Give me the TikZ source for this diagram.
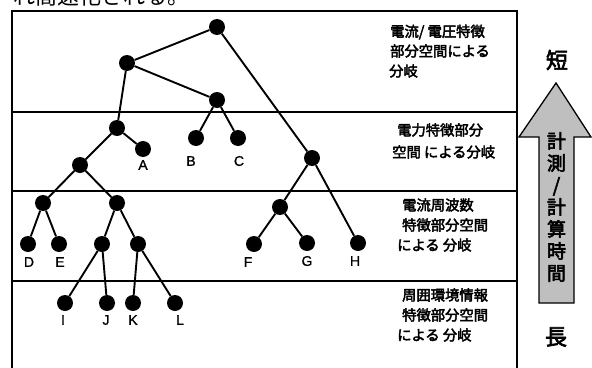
\documentclass[tikz,border=0pt]{standalone}
\usepackage{fontspec}
\setmainfont{Liberation Sans}
\newfontfamily\labfont{Liberation Sans}[FakeBold=1.2]
\newfontfamily\cjk{Noto Sans CJK JP}
\newfontfamily\cjkb{Noto Sans CJK JP}[FakeBold=3]
\begin{document}
\begin{tikzpicture}[x=1pt,y=-1pt,
  inode/.style={circle,fill=black,inner sep=0pt,minimum size=16pt},
  edge/.style={line width=1.9pt},
  lab/.style={font=\labfont\fontsize{14}{14}\selectfont,inner sep=0pt},
  band/.style={font=\cjkb\fontsize{14.3}{14.3}\selectfont,anchor=west,inner sep=0pt},
  frame/.style={line width=1.5pt}]
\useasboundingbox (0,0) rectangle (592,367);
% cut-off line of text at top
\node[font=\cjk\fontsize{22}{22}\selectfont,anchor=base west,inner sep=0pt] (top) at (13,4.5) {れ高速化される。};
% frame and bands
\coordinate (tl) at (12,11);
\coordinate (br) at (517,370);
\draw[frame] (12,370) -- (tl) -- (517,11) -- (br);
\coordinate (l1) at (12,112); \coordinate (r1) at (517,112);
\coordinate (l2) at (12,191); \coordinate (r2) at (517,191);
\coordinate (l3) at (12,281); \coordinate (r3) at (517,281);
\draw[frame] (l1) -- (r1);
\draw[frame] (l2) -- (r2);
\draw[frame] (l3) -- (r3);
% tree nodes
\node[inode] (root) at (217,27) {};
\node[inode] (n1) at (127,63) {};
\node[inode] (n2) at (217,100) {};
\node[inode] (B) at (196,138) {};
\node[inode] (C) at (238,138) {};
\node[inode] (n3) at (117,128) {};
\node[inode] (A) at (143,149) {};
\node[inode] (n4) at (80,165) {};
\node[inode] (n5) at (43,203) {};
\node[inode] (n6) at (117,203) {};
\node[inode] (D) at (28,244) {};
\node[inode] (E) at (59,244) {};
\node[inode] (n7) at (102,244) {};
\node[inode] (n8) at (138,244) {};
\node[inode] (I) at (65,303) {};
\node[inode] (J) at (107,303) {};
\node[inode] (K) at (133,303) {};
\node[inode] (L) at (175,303) {};
\node[inode] (n10) at (312,158) {};
\node[inode] (n9) at (280,207) {};
\node[inode] (F) at (254,244) {};
\node[inode] (G) at (307,243) {};
\node[inode] (H) at (358,243) {};
% edges
\draw[edge] (root) -- (n1);
\draw[edge] (root) -- (n10);
\draw[edge] (n1) -- (n2);
\draw[edge] (n1) -- (n3);
\draw[edge] (n2) -- (B);
\draw[edge] (n2) -- (C);
\draw[edge] (n3) -- (A);
\draw[edge] (n3) -- (n4);
\draw[edge] (n4) -- (n5);
\draw[edge] (n4) -- (n6);
\draw[edge] (n5) -- (D);
\draw[edge] (n5) -- (E);
\draw[edge] (n6) -- (n7);
\draw[edge] (n6) -- (n8);
\draw[edge] (n7) -- (I);
\draw[edge] (n7) -- (J);
\draw[edge] (n8) -- (K);
\draw[edge] (n8) -- (L);
\draw[edge] (n10) -- (n9);
\draw[edge] (n10) -- (H);
\draw[edge] (n9) -- (F);
\draw[edge] (n9) -- (G);
% leaf labels
\node[lab] (lA) at (143,165) {A};
\node[lab] (lB) at (191,161) {B};
\node[lab] (lC) at (239,161) {C};
\node[lab] (lD) at (29,262) {D};
\node[lab] (lE) at (60,262) {E};
\node[lab] (lF) at (248,262) {F};
\node[lab] (lG) at (307,261) {G};
\node[lab] (lH) at (355,261) {H};
\node[lab] (lI) at (63,320) {I};
\node[lab] (lJ) at (106,320) {J};
\node[lab] (lK) at (133,320) {K};
\node[lab] (lL) at (180,320) {L};
% band texts
\node[band] (t11) at (390,32) {電流/ 電圧特徴};
\node[band] (t12) at (390,51) {部分空間による};
\node[band] (t13) at (389,71) {分岐};
\node[band] (t21) at (397,130) {電力特徴部分};
\node[band] (t22) at (392,152) {空間 による分岐};
\node[band] (t31) at (402,205) {電流周波数};
\node[band] (t32) at (402,225) {特徴部分空間};
\node[band] (t33) at (397,245) {による 分岐};
\node[band] (t41) at (402,295) {周囲環境情報};
\node[band] (t42) at (402,315) {特徴部分空間};
\node[band] (t43) at (397,335) {による 分岐};
% time arrow
\draw[line width=1.3pt,fill=black!25] (539,303) -- (539,137) -- (519,137) -- (556,83) -- (591,137) -- (574,137) -- (574,303) -- cycle;
\node[font=\cjkb\fontsize{19}{22}\selectfont,align=center,inner sep=0pt] (arrtxt) at (556.5,207) {計\\測\\/\\計\\算\\時\\間};
\node[font=\cjkb\fontsize{22}{22}\selectfont,inner sep=0pt] (short) at (557,60) {短};
\node[font=\cjkb\fontsize{22}{22}\selectfont,inner sep=0pt] (long) at (556,337) {長};
\end{tikzpicture}
\end{document}
